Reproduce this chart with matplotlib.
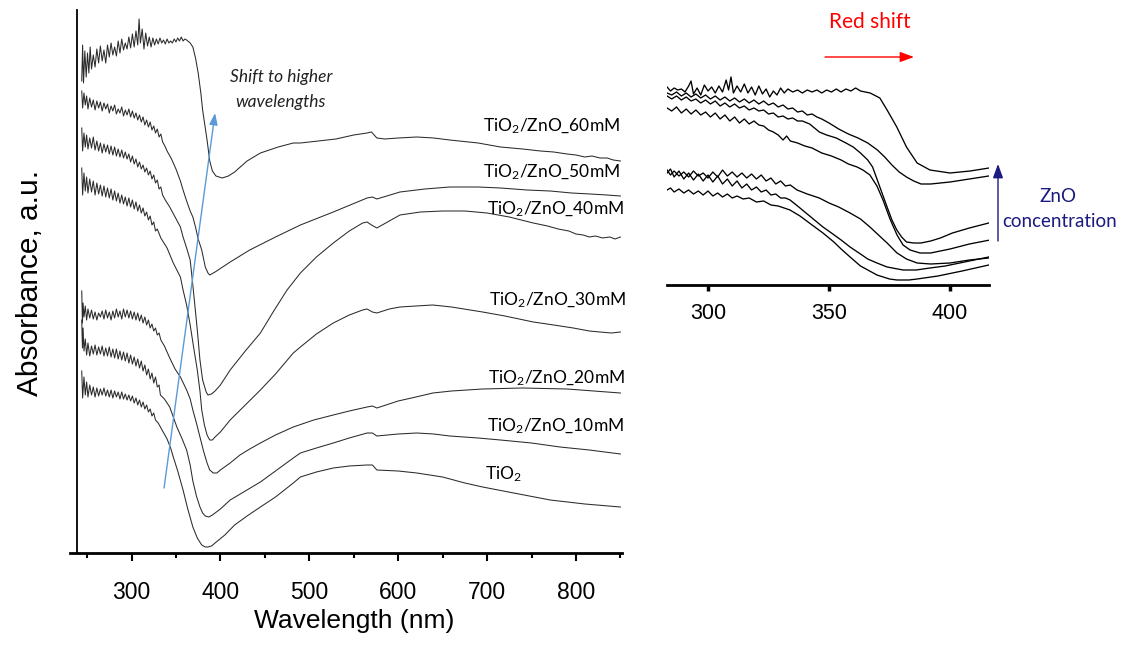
import matplotlib

matplotlib.use("Agg")
import matplotlib.pyplot as plt

W, H = 1127, 646

plt.rcParams.update({
    "font.family": ["Liberation Sans", "DejaVu Sans"],
    "mathtext.fontset": "custom",
    "mathtext.rm": "Lato",
    "mathtext.it": "Lato:italic",
    "mathtext.bf": "Lato:bold",
})

# --- main panel: UV-vis spectra, (wavelength nm, absorbance a.u. incl. stacking offset)
spec_60mM = [
    (244, 4.72), (245, 5.08), (246, 4.70), (247.5, 5.02), (249, 4.76), (250.5, 5.00), (252, 4.80),
    (253.5, 5.06), (255, 4.84), (257, 4.98), (259, 4.86), (261, 5.04), (263, 4.90), (265, 5.07),
    (267, 4.92), (269, 5.03), (271, 4.90), (273, 5.08), (275, 4.96), (277, 5.10), (279, 4.98),
    (281, 5.06), (283, 4.97), (285, 5.12), (287, 5.00), (289, 5.14), (291, 5.03), (293, 5.10),
    (295, 5.04), (297, 5.16), (299, 5.05), (301, 5.19), (303, 5.06), (305, 5.22), (307, 5.08),
    (308.5, 5.34), (310, 5.10), (312, 5.24), (314, 5.04), (316, 5.20), (318, 5.07), (320, 5.16),
    (322, 5.06), (324, 5.15), (326, 5.08), (328, 5.14), (330, 5.09), (332, 5.15), (334, 5.10),
    (336, 5.13), (338, 5.09), (340, 5.14), (342, 5.10), (344, 5.12), (346, 5.10), (348, 5.14),
    (350, 5.11), (352, 5.15), (354, 5.12), (356, 5.16), (358, 5.12), (360, 5.14), (362, 5.13),
    (366, 5.10), (369, 5.06), (372, 4.95), (375, 4.80), (378, 4.60), (380, 4.43), (383, 4.25),
    (385, 4.13), (388, 3.92), (391, 3.82), (395, 3.77), (402, 3.75), (409, 3.77), (416, 3.81),
    (430, 3.92), (445, 4.00), (465, 4.06), (482, 4.10), (490, 4.10), (510, 4.12), (530, 4.14),
    (550, 4.18), (565, 4.20), (570, 4.21), (576, 4.15), (585, 4.14), (600, 4.15), (621, 4.16),
    (640, 4.15), (658, 4.13), (690, 4.10), (715, 4.06), (740, 4.04), (760, 4.02), (775, 4.01),
    (790, 3.99), (800, 3.98), (810, 3.96), (818, 3.97), (827, 3.95), (835, 3.95), (842, 3.93),
    (850, 3.92),
]
spec_50mM = [
    (244, 4.62), (245, 4.45), (246.5, 4.60), (248, 4.48), (249.5, 4.57), (251, 4.44), (253, 4.55),
    (255, 4.46), (257, 4.53), (259, 4.43), (261, 4.52), (263, 4.45), (265, 4.51), (267, 4.42),
    (269, 4.50), (271, 4.44), (273, 4.49), (275, 4.40), (277, 4.47), (279, 4.42), (281, 4.48),
    (283, 4.39), (285, 4.44), (287, 4.40), (289, 4.46), (291, 4.37), (293, 4.43), (295, 4.38),
    (297, 4.44), (299, 4.36), (301, 4.42), (303, 4.35), (305, 4.40), (307, 4.33), (309, 4.38),
    (311, 4.31), (313, 4.36), (315, 4.28), (317, 4.33), (319, 4.26), (321, 4.31), (323, 4.23),
    (325, 4.27), (327, 4.20), (329, 4.24), (331, 4.16), (333, 4.19), (335, 4.11), (337, 4.08),
    (340, 4.02), (345, 3.94), (350, 3.84), (355, 3.72), (358, 3.63), (362, 3.52), (366, 3.42),
    (369, 3.36), (372, 3.26), (375, 3.14), (379, 3.03), (383, 2.86), (386, 2.80), (388, 2.78),
    (394, 2.81), (411, 2.91), (433, 3.03), (462, 3.16), (490, 3.28), (527, 3.41), (565, 3.55),
    (571, 3.56), (576, 3.54), (602, 3.61), (630, 3.64), (658, 3.66), (690, 3.66), (715, 3.65),
    (745, 3.63), (771, 3.62), (795, 3.60), (816, 3.59), (835, 3.58), (850, 3.57),
]
spec_40mM = [
    (244, 4.25), (245, 4.02), (246.5, 4.20), (248, 4.06), (249.5, 4.18), (251, 4.04), (253, 4.15),
    (255, 4.05), (257, 4.16), (259, 4.03), (261, 4.12), (263, 4.02), (265, 4.10), (267, 4.00),
    (269, 4.09), (271, 4.01), (273, 4.08), (275, 3.99), (277, 4.07), (279, 3.98), (281, 4.06),
    (283, 3.97), (285, 4.04), (287, 3.96), (289, 4.03), (291, 3.95), (293, 4.01), (295, 3.94),
    (297, 3.99), (299, 3.91), (301, 3.97), (303, 3.89), (305, 3.94), (307, 3.86), (309, 3.91),
    (311, 3.84), (313, 3.88), (315, 3.81), (317, 3.85), (319, 3.78), (321, 3.82), (323, 3.74),
    (325, 3.78), (327, 3.70), (329, 3.73), (331, 3.64), (333, 3.66), (335, 3.58), (338, 3.53),
    (343, 3.46), (349, 3.36), (355, 3.26), (358, 3.16), (362, 3.05), (366, 2.93), (369, 2.68),
    (374, 2.23), (377, 1.93), (380, 1.73), (384, 1.61), (386, 1.58), (390, 1.59), (394, 1.62),
    (400, 1.68), (411, 1.83), (428, 2.02), (445, 2.20), (460, 2.42), (475, 2.63), (490, 2.80),
    (508, 2.96), (527, 3.10), (545, 3.22), (560, 3.30), (565, 3.31), (570, 3.28), (576, 3.25),
    (588, 3.31), (602, 3.38), (625, 3.41), (650, 3.42), (675, 3.42), (700, 3.40), (725, 3.36),
    (752, 3.30), (768, 3.27), (780, 3.24), (792, 3.22), (800, 3.19), (808, 3.18), (815, 3.16),
    (822, 3.17), (830, 3.15), (838, 3.16), (844, 3.14), (850, 3.16),
]
spec_30mM = [
    (244, 3.85), (245, 3.58), (246.5, 3.80), (248, 3.62), (249.5, 3.76), (251, 3.60), (253, 3.74),
    (255, 3.61), (257, 3.72), (259, 3.58), (261, 3.70), (263, 3.59), (265, 3.68), (267, 3.57),
    (269, 3.67), (271, 3.56), (273, 3.65), (275, 3.55), (277, 3.64), (279, 3.53), (281, 3.62),
    (283, 3.52), (285, 3.60), (287, 3.50), (289, 3.58), (291, 3.49), (293, 3.56), (295, 3.47),
    (297, 3.55), (299, 3.46), (301, 3.53), (303, 3.44), (305, 3.51), (307, 3.42), (309, 3.48),
    (311, 3.40), (313, 3.45), (315, 3.37), (317, 3.41), (319, 3.33), (321, 3.37), (323, 3.28),
    (325, 3.31), (327, 3.22), (329, 3.24), (333, 3.15), (340, 3.05), (347, 2.90), (355, 2.76),
    (358, 2.63), (362, 2.48), (366, 2.28), (370, 2.05), (374, 1.83), (377, 1.62), (379, 1.43),
    (382, 1.28), (385, 1.18), (388, 1.13), (391, 1.13), (394, 1.16), (400, 1.21), (411, 1.33),
    (428, 1.48), (445, 1.63), (462, 1.79), (482, 2.00), (490, 2.06), (508, 2.19), (527, 2.30),
    (545, 2.38), (560, 2.43), (565, 2.44), (571, 2.41), (576, 2.40), (590, 2.44), (602, 2.46),
    (620, 2.47), (639, 2.48), (660, 2.46), (695, 2.41), (720, 2.37), (752, 2.31), (775, 2.28),
    (797, 2.25), (815, 2.22), (827, 2.21), (840, 2.20), (850, 2.21),
]
spec_20mM = [
    (244, 2.62), (244.8, 2.30), (245.5, 2.50), (246.5, 2.36), (248, 2.47), (249.5, 2.33),
    (251, 2.44), (253, 2.35), (255, 2.43), (257, 2.34), (259, 2.41), (261, 2.33), (263, 2.40),
    (265, 2.36), (267, 2.42), (269, 2.34), (271, 2.43), (273, 2.35), (275, 2.41), (277, 2.33),
    (279, 2.42), (281, 2.35), (283, 2.44), (285, 2.36), (287, 2.42), (289, 2.34), (291, 2.44),
    (293, 2.36), (295, 2.43), (297, 2.35), (299, 2.42), (301, 2.34), (303, 2.41), (305, 2.33),
    (307, 2.40), (309, 2.32), (311, 2.38), (313, 2.30), (315, 2.36), (317, 2.28), (319, 2.33),
    (321, 2.25), (323, 2.29), (325, 2.22), (327, 2.25), (329, 2.18), (331, 2.20), (333, 2.13),
    (337, 2.07), (343, 1.95), (349, 1.84), (355, 1.76), (362, 1.63), (366, 1.54), (369, 1.43),
    (373, 1.30), (377, 1.16), (381, 1.02), (385, 0.90), (388, 0.83), (392, 0.80), (396, 0.80),
    (400, 0.83), (411, 0.90), (422, 0.98), (433, 1.04), (445, 1.10), (462, 1.18), (482, 1.26),
    (505, 1.33), (527, 1.38), (545, 1.42), (565, 1.46), (571, 1.47), (576, 1.45), (600, 1.52),
    (620, 1.56), (639, 1.60), (660, 1.62), (695, 1.64), (740, 1.65), (790, 1.64), (820, 1.62),
    (850, 1.60),
]
spec_10mM = [
    (244, 2.33), (244.8, 2.05), (245.5, 2.25), (246.5, 2.02), (248, 2.14), (249.5, 1.98),
    (251, 2.10), (253, 1.97), (255, 2.07), (257, 1.99), (259, 2.08), (261, 1.98), (263, 2.06),
    (265, 1.99), (267, 2.07), (269, 1.97), (271, 2.05), (273, 1.97), (275, 2.06), (277, 1.96),
    (279, 2.04), (281, 1.95), (283, 2.04), (285, 1.94), (287, 2.02), (289, 1.93), (291, 2.01),
    (293, 1.92), (295, 2.00), (297, 1.90), (299, 1.98), (301, 1.89), (303, 1.96), (305, 1.87),
    (307, 1.94), (309, 1.85), (311, 1.92), (313, 1.82), (315, 1.88), (317, 1.78), (319, 1.84),
    (321, 1.74), (323, 1.80), (325, 1.70), (327, 1.76), (329, 1.66), (331, 1.68), (332.5, 1.58),
    (337, 1.54), (343, 1.46), (347, 1.36), (351, 1.26), (357, 1.14), (362, 1.03), (366, 0.88),
    (369, 0.72), (373, 0.57), (377, 0.46), (380, 0.40), (383, 0.37), (387, 0.36), (391, 0.38),
    (400, 0.44), (411, 0.53), (428, 0.62), (445, 0.71), (462, 0.82), (482, 0.95), (490, 1.00),
    (508, 1.05), (527, 1.10), (545, 1.15), (565, 1.20), (571, 1.20), (576, 1.17), (600, 1.19),
    (621, 1.20), (640, 1.19), (658, 1.17), (690, 1.15), (715, 1.13), (750, 1.10), (782, 1.06),
    (815, 1.03), (850, 0.99),
]
spec_TiO2 = [
    (244, 1.82), (245, 1.55), (246.5, 1.76), (248, 1.58), (249.5, 1.71), (251, 1.56), (253, 1.68),
    (255, 1.58), (257, 1.66), (259, 1.56), (261, 1.65), (263, 1.57), (265, 1.64), (267, 1.58),
    (269, 1.65), (271, 1.57), (273, 1.63), (275, 1.56), (277, 1.63), (279, 1.55), (281, 1.62),
    (283, 1.56), (285, 1.61), (287, 1.54), (289, 1.61), (291, 1.54), (293, 1.59), (295, 1.53),
    (297, 1.58), (299, 1.52), (301, 1.57), (303, 1.50), (305, 1.55), (307, 1.48), (309, 1.53),
    (311, 1.46), (313, 1.51), (315, 1.44), (317, 1.48), (319, 1.41), (321, 1.44), (323, 1.37),
    (325, 1.40), (327, 1.33), (330, 1.30), (335, 1.22), (340, 1.14), (344, 1.05), (347, 0.96),
    (352, 0.82), (358, 0.63), (363, 0.45), (369, 0.26), (374, 0.15), (379, 0.08), (383, 0.06),
    (386, 0.06), (390, 0.07), (394, 0.10), (405, 0.18), (416, 0.28), (430, 0.37), (445, 0.46),
    (462, 0.56), (482, 0.70), (490, 0.76), (508, 0.81), (527, 0.85), (545, 0.87), (565, 0.88),
    (571, 0.88), (576, 0.83), (600, 0.82), (621, 0.80), (650, 0.76), (675, 0.70), (695, 0.66),
    (730, 0.60), (771, 0.53), (810, 0.49), (850, 0.46),
]
main_spectra = [spec_60mM, spec_50mM, spec_40mM, spec_30mM, spec_20mM, spec_10mM, spec_TiO2]

# labels at the right end of each trace: (text, wavelength, absorbance of baseline)
label_texts = [r"TiO$_2$/ZnO_60mM", r"TiO$_2$/ZnO_50mM", r"TiO$_2$/ZnO_40mM",
               r"TiO$_2$/ZnO_30mM", r"TiO$_2$/ZnO_20mM", r"TiO$_2$/ZnO_10mM", r"TiO$_2$"]
label_x = [695, 695, 700, 702, 701, 700, 698]
label_y = [4.22, 3.76, 3.39, 2.48, 1.70, 1.22, 0.74]

main_xticks = [300, 400, 500, 600, 700, 800]
main_minor = [250, 350, 450, 550, 650, 750, 850]

# --- inset: zoom of the absorption edge (wavelength nm, absorbance a.u.)
edge_a = [
    (283.1, 1.98), (284.5, 1.94), (286, 1.97), (287.5, 1.95), (289, 1.96), (290.5, 1.93),
    (292, 1.99), (293, 2.04), (294, 1.91), (295.5, 1.97), (297, 1.90), (298.5, 2.00), (300, 1.94),
    (301.5, 1.98), (303, 1.92), (304.5, 1.99), (306, 1.93), (307.5, 2.05), (308.5, 1.95),
    (309.5, 2.08), (310.5, 1.92), (312, 1.99), (313.5, 1.93), (315, 2.01), (316.5, 1.92),
    (318, 1.98), (319.5, 1.90), (321, 1.99), (322.5, 1.91), (324, 1.96), (325.5, 1.88),
    (327, 1.94), (328.5, 1.90), (330, 1.97), (331.5, 1.92), (333, 1.96), (335, 1.93), (337, 1.95),
    (339, 1.92), (341, 1.95), (343, 1.93), (345, 1.95), (347, 1.92), (349, 1.95), (351, 1.93),
    (353, 1.96), (355, 1.93), (357, 1.96), (359, 1.94), (361, 1.97), (363, 1.94), (365, 1.93),
    (367, 1.92), (371, 1.87), (374, 1.75), (378, 1.58), (382, 1.38), (386.4, 1.22), (391.7, 1.15),
    (400, 1.12), (408.3, 1.14), (416.1, 1.17),
]
edge_b = [
    (283.1, 1.92), (285, 1.90), (287, 1.93), (289, 1.89), (291, 1.92), (293, 1.88), (295, 1.91),
    (297, 1.87), (299, 1.90), (301, 1.86), (303, 1.89), (305, 1.85), (307, 1.88), (309, 1.84),
    (311, 1.87), (313, 1.83), (315, 1.86), (317, 1.82), (319, 1.85), (321, 1.81), (323, 1.84),
    (325, 1.80), (327, 1.82), (329, 1.78), (331, 1.80), (333, 1.76), (335, 1.77), (337, 1.73),
    (339, 1.74), (341, 1.70), (343, 1.71), (345, 1.68), (347, 1.66), (350, 1.62), (354, 1.56),
    (358, 1.51), (362, 1.47), (366, 1.42), (370, 1.35), (373, 1.28), (376, 1.20), (379, 1.13),
    (382, 1.08), (385, 1.04), (388, 1.01), (392, 1.01), (400, 1.03), (408, 1.06), (416, 1.09),
]
edge_c = [
    (283.1, 1.89), (285, 1.86), (287, 1.89), (289, 1.85), (291, 1.88), (293, 1.84), (295, 1.86),
    (297, 1.82), (299, 1.85), (301, 1.81), (303, 1.84), (305, 1.79), (307, 1.82), (309, 1.78),
    (311, 1.81), (313, 1.77), (315, 1.79), (317, 1.75), (319, 1.77), (321, 1.74), (323, 1.75),
    (325, 1.71), (327, 1.72), (329, 1.68), (331, 1.69), (333, 1.66), (335, 1.67), (337, 1.64),
    (339, 1.64), (342, 1.61), (346, 1.53), (349, 1.50), (353, 1.47), (357, 1.42), (360, 1.38),
    (363, 1.32), (366, 1.25), (368, 1.18), (371, 0.98), (374, 0.78), (376, 0.65), (378, 0.55),
    (380, 0.48), (382, 0.43), (385, 0.42), (388, 0.42), (392, 0.44), (396, 0.47), (401, 0.52),
    (408, 0.57), (416, 0.62),
]
edge_d = [
    (283.1, 1.77), (285, 1.74), (287, 1.78), (289, 1.72), (291, 1.76), (293, 1.71), (295, 1.75),
    (297, 1.70), (299, 1.73), (301, 1.68), (303, 1.72), (305, 1.66), (307, 1.70), (309, 1.64),
    (311, 1.68), (313, 1.62), (315, 1.66), (317, 1.61), (319, 1.64), (321, 1.60), (323, 1.59),
    (325, 1.55), (327, 1.53), (329, 1.50), (331, 1.45), (332.5, 1.49), (334, 1.44), (337, 1.42),
    (340, 1.39), (343, 1.37), (347, 1.32), (351, 1.29), (355, 1.25), (358, 1.21), (361.6, 1.18),
    (364, 1.15), (366.9, 1.10), (369.8, 0.99), (372.3, 0.85), (375.2, 0.66), (378.1, 0.50),
    (380.6, 0.40), (383.5, 0.35), (387.6, 0.32), (392, 0.32), (400, 0.36), (408, 0.41),
    (416.5, 0.45),
]
edge_e = [
    (283.1, 1.15), (284.5, 1.10), (286, 1.14), (288, 1.09), (290, 1.13), (292, 1.08), (294, 1.14),
    (296, 1.09), (298, 1.12), (300, 1.07), (302, 1.13), (304, 1.08), (306, 1.15), (308, 1.09),
    (310, 1.13), (312, 1.08), (314, 1.12), (316, 1.07), (318, 1.11), (320, 1.06), (322, 1.10),
    (324, 1.04), (326, 1.07), (328, 1.01), (330, 1.04), (332, 0.99), (334, 1.00), (336.8, 0.95),
    (341, 0.91), (346, 0.87), (350, 0.82), (354, 0.78), (358.7, 0.72), (363, 0.66), (366.9, 0.58),
    (370, 0.51), (374, 0.42), (378.1, 0.32), (382, 0.26), (386.4, 0.22), (392, 0.21),
    (400, 0.22), (408, 0.25), (416, 0.27),
]
edge_f = [
    (283.1, 1.12), (284.5, 1.16), (286, 1.08), (288, 1.14), (290, 1.06), (292, 1.12), (294, 1.05),
    (296, 1.11), (298, 1.04), (300, 1.10), (302, 1.03), (304, 1.09), (306, 1.01), (308, 1.06),
    (310, 0.99), (312, 1.04), (314, 0.97), (316, 1.01), (318, 0.95), (320, 0.98), (322, 0.93),
    (324, 0.95), (326, 0.90), (328, 0.91), (330, 0.87), (332, 0.87), (333.9, 0.85), (337, 0.79),
    (341, 0.71), (344, 0.65), (347.5, 0.58), (351, 0.52), (355, 0.45), (358.7, 0.38), (363, 0.31),
    (366, 0.26), (369.8, 0.22), (374, 0.18), (380.6, 0.15), (386, 0.15), (391.7, 0.17),
    (398, 0.19), (404, 0.22), (410, 0.25), (416, 0.28),
]
edge_g = [
    (283.1, 0.95), (284.5, 0.97), (286, 0.93), (288, 0.96), (290, 0.92), (292, 0.95), (294, 0.91),
    (296, 0.94), (298, 0.90), (300, 0.94), (302, 0.89), (304, 0.92), (306, 0.88), (308, 0.91),
    (310, 0.87), (312, 0.89), (314.5, 0.86), (317, 0.87), (320, 0.83), (323, 0.84), (326, 0.80),
    (329, 0.79), (333.9, 0.75), (338, 0.69), (343, 0.60), (347.5, 0.52), (352, 0.43), (355, 0.36),
    (358.7, 0.28), (363, 0.19), (369.8, 0.10), (375, 0.06), (378.1, 0.05), (383, 0.05),
    (386.4, 0.06), (395, 0.09), (405, 0.14), (416, 0.20),
]
inset_spectra = [edge_a, edge_b, edge_c, edge_d, edge_e, edge_f, edge_g]
inset_xticks = [300, 350, 400]


def px(x, y):
    """Figure pixel (from top-left) -> figure fraction."""
    return x / W, 1 - y / H


fig = plt.figure(figsize=(W / 100, H / 100), dpi=100)

# ---------------------------------------------------------------------------
# Main panel
# ---------------------------------------------------------------------------
ax = fig.add_axes([70 / W, 1 - 553 / H, 552 / W, 543 / H])
for s in main_spectra:
    wl, ab = zip(*s)
    ax.plot(wl, ab, color="#2b2b2b", lw=0.75)
ax.set_xlim(230.8, 851.8)
ax.set_ylim(0, 5.43)
ax.spines[["top", "right"]].set_visible(False)
ax.spines["left"].set_position(("data", 238.7))
ax.spines["left"].set_linewidth(1.3)
ax.spines["bottom"].set_linewidth(2.0)
ax.set_xticks(main_xticks)
ax.set_xticks(main_minor, minor=True)
ax.tick_params(axis="x", which="major", direction="out", length=6, width=1.5,
               labelsize=16.5, pad=14)
ax.tick_params(axis="x", which="minor", direction="out", length=3.5, width=1.5)
ax.tick_params(axis="y", left=False, labelleft=False)
ax.set_xlabel("Wavelength (nm)", fontsize=19)
ax.xaxis.set_label_coords(0.5145, -0.104)
ax.set_ylabel("Absorbance, a.u.", fontsize=21.5)
ax.yaxis.set_label_coords(-0.048, 0.497)

for t, x, y in zip(label_texts, label_x, label_y):
    ax.text(x, y, t, family="Lato", fontsize=12.5, ha="left", va="baseline")

ax.text(468, 4.71, "Shift to higher", family="Lato", style="italic", fontsize=12.5,
        ha="center", va="baseline", color="#222222")
ax.text(468, 4.46, "wavelengths", family="Lato", style="italic", fontsize=12.5,
        ha="center", va="baseline", color="#222222")
ax.annotate("", xy=(394, 4.40), xytext=(336.6, 0.65),
            arrowprops=dict(arrowstyle="-|>,head_length=0.7,head_width=0.25",
                            color="#5B9BD5", lw=1.0, shrinkA=0, shrinkB=0))

# ---------------------------------------------------------------------------
# Inset: absorption edge
# ---------------------------------------------------------------------------
ins = fig.add_axes([667 / W, 1 - 285 / H, 322 / W, 212 / H])
for s in inset_spectra:
    wl, ab = zip(*s)
    ins.plot(wl, ab, color="black", lw=0.95)
ins.set_xlim(283.06, 416.1)
ins.set_ylim(0, 2.12)
ins.spines[["top", "right", "left"]].set_visible(False)
ins.spines["bottom"].set_linewidth(2.0)
ins.set_xticks(inset_xticks)
ins.tick_params(axis="x", direction="out", length=4, width=2.5, labelsize=15.5, pad=9)
ins.tick_params(axis="y", left=False, labelleft=False)

fig.text(*px(870, 28), "Red shift", family="Lato", fontsize=15, color="red",
         ha="center", va="baseline")
fig.add_artist(matplotlib.patches.FancyArrowPatch(
    px(825, 57), px(914, 57), transform=fig.transFigure,
    arrowstyle="-|>,head_length=0.6,head_width=0.22", color="red", lw=1.0,
    shrinkA=0, shrinkB=0, mutation_scale=14))

fig.text(*px(1058, 202), "ZnO", family="Lato", fontsize=13.5, color="#1a1a80",
         ha="center", va="baseline")
fig.text(*px(1060, 227), "concentration", family="Lato", fontsize=13.5, color="#1a1a80",
         ha="center", va="baseline")
fig.add_artist(matplotlib.patches.FancyArrowPatch(
    px(998, 241), px(998, 164), transform=fig.transFigure,
    arrowstyle="-|>,head_length=0.6,head_width=0.22", color="#1a1a80", lw=1.0,
    shrinkA=0, shrinkB=0, mutation_scale=14))

fig.savefig("out.png", dpi=100)
